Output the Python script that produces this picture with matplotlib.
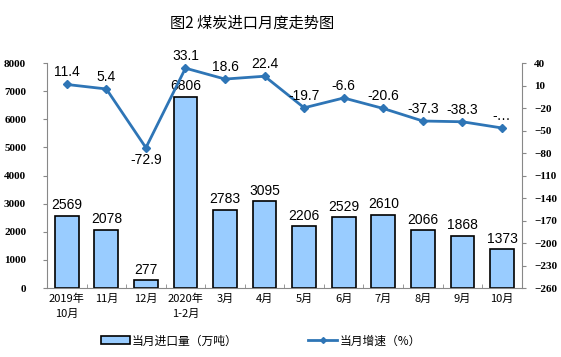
import numpy as np
import matplotlib.pyplot as plt
from matplotlib.lines import Line2D
from matplotlib.patches import Patch

plt.rcParams['font.family'] = ['Noto Sans CJK SC', 'DejaVu Sans']

months = ['2019年\n10月', '11月', '12月', '2020年\n1-2月', '3月', '4月',
          '5月', '6月', '7月', '8月', '9月', '10月']
imports = [2569, 2078, 277, 6806, 2783, 3095, 2206, 2529, 2610, 2066, 1868, 1373]
growth = [11.4, 5.4, -72.9, 33.1, 18.6, 22.4, -19.7, -6.6, -20.6, -37.3, -38.3, -46.6]
growth_labels = ['11.4', '5.4', '-72.9', '33.1', '18.6', '22.4', '-19.7', '-6.6',
                 '-20.6', '-37.3', '-38.3', '-…']

bar_color = '#99CCFF'
line_color = '#2E75B6'
num_font = ['Liberation Sans', 'DejaVu Sans']
tick_font = ['Liberation Serif', 'DejaVu Serif']

fig = plt.figure(figsize=(5.61, 3.57), dpi=100)
ax = fig.add_axes([0.0838, 0.193, 0.8462, 0.6305])
x = np.arange(len(months))

ax.bar(x, imports, width=0.6, color=bar_color, edgecolor='black', linewidth=1.2, zorder=2)
for xi, v in zip(x, imports):
    ax.text(xi, v + 120, str(v), ha='center', va='bottom', fontsize=10, family=num_font)

ax.set_xlim(-0.5, len(months) - 0.5)
ax.set_ylim(0, 8000)
ax.set_yticks(np.arange(0, 8001, 1000))
ax.set_xticks(x)
ax.set_xticklabels(months, fontsize=8, linespacing=1.6)
ax.set_xticks(np.arange(-0.5, len(months), 1), minor=True)
ax.tick_params(axis='x', which='major', length=0, pad=4)
ax.tick_params(axis='x', which='minor', length=3, direction='in', color='#888888')
ax.tick_params(axis='y', length=3, direction='out', color='#888888', labelsize=8, pad=12)
for lab in ax.get_yticklabels():
    lab.set_family(tick_font)
    lab.set_fontweight('bold')
for s in ['top', 'right']:
    ax.spines[s].set_visible(False)
ax.spines['left'].set_color('#888888')
ax.spines['bottom'].set_color('#888888')

ax2 = ax.twinx()
ax2.plot(x, growth, color=line_color, linewidth=2, marker='D', markersize=4, zorder=3)
for xi, v, lab in zip(x, growth, growth_labels):
    if v < -60:
        ax2.text(xi, v - 7, lab, ha='center', va='top', fontsize=10, family=num_font)
    else:
        ax2.text(xi, v + 7, lab, ha='center', va='bottom', fontsize=10, family=num_font)
ax2.set_ylim(-260, 40)
ax2.set_yticks(np.arange(-260, 41, 30))
ax2.tick_params(axis='y', length=3, direction='out', color='#888888', labelsize=8, pad=6)
for lab in ax2.get_yticklabels():
    lab.set_family(tick_font)
    lab.set_fontweight('bold')
for s in ['top', 'left', 'bottom']:
    ax2.spines[s].set_visible(False)
ax2.spines['right'].set_color('#888888')

fig.text(0.45, 0.935, '图2 煤炭进口月度走势图', ha='center', va='center', fontsize=11)

handles = [Patch(facecolor=bar_color, edgecolor='black', linewidth=1.2),
           Line2D([0], [0], color=line_color, linewidth=2, marker='D', markersize=3)]
fig.legend(handles, ['当月进口量（万吨）', '当月增速（%）'], loc='center',
           bbox_to_anchor=(0.465, 0.045), ncol=2, frameon=False, fontsize=8.5,
           columnspacing=6, handlelength=2.4, handletextpad=0.2)

fig.savefig('out.png', dpi=100)
